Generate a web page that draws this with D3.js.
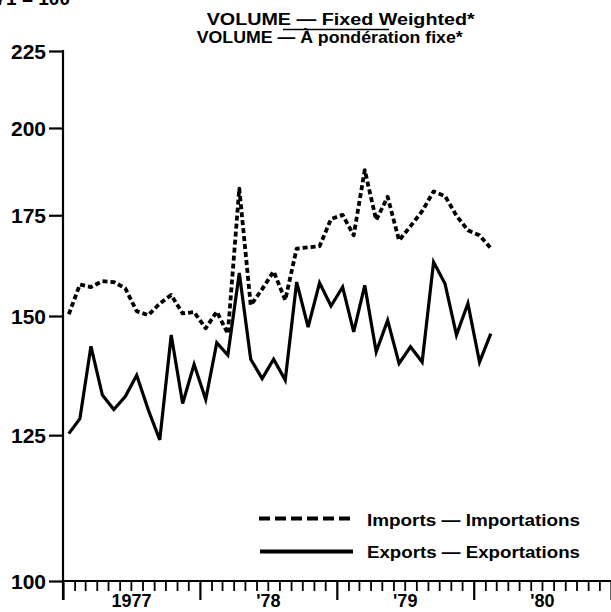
<!DOCTYPE html>
<html>
<head>
<meta charset="utf-8">
<script src="https://cdn.jsdelivr.net/npm/d3@7"></script>
<style>
  html, body { margin: 0; padding: 0; background: #fff; }
  svg { display: block; }
  svg text.lbl { font-family: "Liberation Sans", Arial, sans-serif; font-weight: 700; fill: #000; }
</style>
</head>
<body>
<div id="chart"></div>
<script>
// ---- Data (monthly, Jan 1977 – Feb 1980), index 1971 = 100 ----
const startYear = 1977;
const imports = [150.4, 157.4, 156.8, 158.2, 158.0, 156.5, 151.1, 150.2, 152.9, 154.9, 150.6, 150.9,
                 147.2, 151.0, 146.0, 182.3, 152.5, 156.3, 160.6, 153.7, 166.3, 166.6, 166.9, 174.0,
                 175.1, 169.7, 187.5, 173.7, 180.0, 168.4, 172.1, 176.1, 181.5, 180.2, 174.9, 171.0,
                 169.7, 166.4];
const exports_ = [125.3, 128.2, 143.2, 132.9, 130.0, 132.6, 137.0, 129.9, 124.1, 145.7, 131.2, 139.3,
                  132.0, 144.0, 141.3, 160.2, 140.4, 136.3, 140.4, 136.0, 158.0, 147.5, 157.8, 152.3,
                  156.8, 146.4, 157.2, 142.0, 149.0, 139.5, 143.1, 139.8, 162.9, 157.6, 145.7, 152.9,
                  139.8, 146.0];
const yTicks = [100, 125, 150, 175, 200, 225];
const yearLabels = ["1977", "'78", "'79", "'80"];
const titleLines = ["VOLUME — Fixed Weighted*", "VOLUME — À pondération fixe*"];
const legendLabels = ["Imports — Importations", "Exports — Exportations"];
const baseLabel = "1971 = 100";

// ---- Layout ----
const W = 611, H = 612;
const svg = d3.select("#chart").append("svg").attr("width", W).attr("height", H);

const x = d3.scaleTime()
  .domain([new Date(1977, 0, 1), new Date(1981, 0, 1)])
  .range([63, 611]);
const y = d3.scaleLog().domain([100, 225]).range([581, 51]);

const monthMid = i => {
  const a = new Date(startYear, i, 1), b = new Date(startYear, i + 1, 1);
  return (x(a) + x(b)) / 2;
};

// base label (cut at top, as in the source)
svg.append("text").attr("class", "lbl").attr("x", 70).attr("y", 5).attr("text-anchor", "end")
  .style("font-size", "19px").text(baseLabel);

// title
const tl = [{x: 206.7, y: 24.5, w: 268}, {x: 196.7, y: 43, w: 266}];
titleLines.forEach((t, i) => {
  svg.append("text").attr("class", "lbl").attr("x", tl[i].x).attr("y", tl[i].y)
    .style("font-size", "16px")
    .attr("textLength", tl[i].w).attr("lengthAdjust", "spacingAndGlyphs")
    .text(t);
});
svg.append("line").attr("x1", 283).attr("x2", 389).attr("y1", 29.5).attr("y2", 29.5)
  .attr("stroke", "#000").attr("stroke-width", 1.5);

// y axis (ticks from the axis generator, labels drawn from the scale)
const yAxis = d3.axisLeft(y).tickValues(yTicks).tickSize(14).tickFormat("");
const gy = svg.append("g").attr("transform", "translate(63,0)").call(yAxis);
gy.select(".domain").remove();
gy.selectAll(".tick line").attr("stroke", "#000").attr("stroke-width", 2.2);
svg.selectAll("text.ylab").data(yTicks).join("text")
  .attr("class", "lbl ylab")
  .attr("x", 46).attr("y", d => y(d)).attr("dy", "0.36em")
  .attr("text-anchor", "end").style("font-size", "21px")
  .text(d => d3.format("d")(d));
svg.append("line").attr("x1", 63).attr("x2", 63).attr("y1", 50).attr("y2", 600)
  .attr("stroke", "#000").attr("stroke-width", 2.2);

// x axis
const xAxis = d3.axisBottom(x).ticks(d3.timeMonth.every(1)).tickSize(10).tickFormat("");
const gx = svg.append("g").attr("transform", "translate(0,581)").call(xAxis);
gx.select(".domain").remove();
gx.selectAll(".tick line").attr("stroke", "#000")
  .attr("y2", d => d.getMonth() === 0 ? 19 : 10)
  .attr("stroke-width", d => d.getMonth() === 0 ? 2.2 : 1.8);
svg.append("line").attr("x1", 63).attr("x2", 611).attr("y1", 581).attr("y2", 581)
  .attr("stroke", "#000").attr("stroke-width", 2.2);

yearLabels.forEach((lab, i) => {
  const cx = (x(new Date(startYear + i, 0, 1)) + x(new Date(startYear + i + 1, 0, 1))) / 2;
  svg.append("text").attr("class", "lbl").attr("x", cx).attr("y", 607).attr("text-anchor", "middle")
    .style("font-size", "18px").text(lab);
});

// lines
const line = d3.line().x((d, i) => monthMid(i)).y(d => y(d)).curve(d3.curveLinear);
svg.append("path").datum(imports).attr("d", line)
  .attr("fill", "none").attr("stroke", "#000").attr("stroke-width", 3.8)
  .attr("stroke-dasharray", "5,3").attr("stroke-linejoin", "round");
svg.append("path").datum(exports_).attr("d", line)
  .attr("fill", "none").attr("stroke", "#000").attr("stroke-width", 3.2)
  .attr("stroke-linejoin", "miter");

// legend
svg.append("line").attr("x1", 259).attr("x2", 353).attr("y1", 518.5).attr("y2", 518.5)
  .attr("stroke", "#000").attr("stroke-width", 4).attr("stroke-dasharray", "11,5");
svg.append("line").attr("x1", 260).attr("x2", 353).attr("y1", 551.5).attr("y2", 551.5)
  .attr("stroke", "#000").attr("stroke-width", 4);
[526, 558].forEach((yy, i) => {
  svg.append("text").attr("class", "lbl").attr("x", 367).attr("y", yy).style("font-size", "17px")
    .attr("textLength", 213).attr("lengthAdjust", "spacingAndGlyphs")
    .text(legendLabels[i]);
});
</script>
</body>
</html>
